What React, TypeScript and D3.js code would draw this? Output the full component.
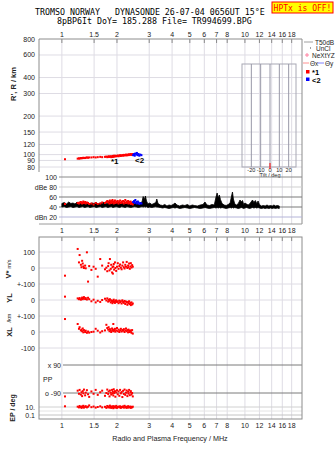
import React from 'react';
import * as d3 from 'd3';

// frequency axis
const freqTicks = [1, 1.5, 2, 3, 4, 5, 6, 7, 8, 10, 12, 14, 16, 18];

// range panel
const rangeTicks = [800, 600, 400, 300, 200, 150, 120, 100, 90, 80];

// amplitude panel
const dbTicks = [100, 80, 60, 40, 20];
const dbTickLabels = ['100', 'dBe 80', '60', '40', 'dBn 20'];
const dbLineColors = ['#8a8a8a', '#cfcfcf', '#7a7a7a', '#7a7a7a', '#b4b4d8'];

// tilt inset
const tiltTicks = [-20, -10, 0, 10, 20];

// middle panel ticks
const vTickVals = [100, 0, -100];
const vTickLabels = ['100', '0', '+-100'];
const ylTickVals = [0, -100];
const ylTickLabels = ['0', '+-100'];
const xlTickVals = [0, -100];
const xlTickLabels = ['0', '-100'];

// mode 1 echoes (red)
const echoFreq = [1.04, 1.22, 1.24, 1.25, 1.27, 1.28, 1.29, 1.30, 1.31, 1.32,
  1.34, 1.35, 1.37, 1.39, 1.41, 1.45, 1.49, 1.53, 1.57, 1.62,
  1.66, 1.72, 1.75, 1.77, 1.79, 1.80, 1.82, 1.83, 1.85, 1.86,
  1.88, 1.89, 1.90, 1.91, 1.92, 1.93, 1.95, 1.96, 1.98, 2.00,
  2.02, 2.04, 2.06, 2.08, 2.10, 2.12, 2.14, 2.16, 2.18, 2.20,
  2.22, 2.24, 2.26, 2.28, 2.30, 2.31, 2.33, 2.35, 2.37, 2.38,
  2.40, 2.42, 2.44];
const echoRange = [92, 93, 93.5, 93, 94, 93.5, 94, 94, 94.5, 94,
  94, 94.5, 95, 94.5, 95, 95, 95.5, 95, 95.5, 96,
  95.5, 96, 96.5, 95.5, 96, 97, 96, 96.5, 97, 95.5,
  96, 97.5, 96, 97, 98, 96.5, 97, 98, 97, 97.5,
  98.5, 97, 98, 99, 97.5, 98.5, 99, 98, 99.5, 98.5,
  99, 100, 98.5, 99.5, 100, 99, 100.5, 99.5, 100, 101,
  99.5, 100, 101];
const echoAmp = [46, 48, 47, 49, 50, 48, 47, 49, 51, 48,
  50, 47, 49, 48, 46, 47, 45, 48, 46, 47,
  49, 48, 50, 52, 49, 51, 47, 53, 50, 48,
  52, 54, 49, 51, 47, 50, 53, 48, 51, 49,
  52, 47, 50, 53, 48, 51, 49, 52, 47, 50,
  54, 48, 51, 49, 52, 47, 50, 48, 51, 46,
  49, 47, 45];
const echoV = [-48, 119, 35, 81, 20, 5, 45, 28, 10, 0,
  15, -2, 98, -85, 12, -12, 8, -5, -54, 56,
  15, -8, 2, -20, 12, 30, -15, 56, -5, 20,
  -28, 5, -35, 10, 25, -10, 35, 0, -18, 8,
  30, -5, 12, 22, 2, -8, 15, 35, 5, -3,
  20, 8, 38, 0, 15, 5, 28, -5, 10, 30,
  3, 18, 8];
const echoYL = [21, 10, 5, 12, 2, 8, 15, 5, 10, 18,
  6, 12, 3, 14, 5, -8, 2, -15, -5, -12,
  0, 8, -3, 10, -10, 2, -5, 5, -15, -2,
  -8, -20, -5, -12, 2, -10, -18, -6, -2, -12,
  -8, -20, -4, -14, -8, -22, -2, -12, -18, -6,
  -25, -10, -15, -30, -12, -20, -8, -25, -18, -32,
  -15, -28, -22];
const echoXL = [81, 50, 20, 30, 10, 15, 5, 22, -2, 12,
  0, 8, -5, 3, -4, 0, 2, 20, 8, -3,
  5, 10, 45, 25, 15, 30, 5, 18, 10, 0,
  22, 8, 15, 50, 5, 12, 20, 2, 10, 25,
  5, 15, 0, 10, 20, 3, 12, 8, 18, 0,
  10, 22, 5, 12, -2, 15, 8, 0, 10, 5,
  -5, 12, -10];
const echoPP = [-112, -75, -95, -70, -100, -85, -110, -78, -92, -68,
  -105, -88, -72, -98, -115, -80, -95, -70, -102, -85,
  -75, -108, -90, -68, -96, -80, -112, -74, -88, -100,
  -70, -94, -82, -106, -66, -90, -78, -114, -86, -72,
  -98, -80, -108, -70, -92, -84, -116, -76, -96, -68,
  -102, -88, -74, -110, -82, -94, -70, -104, -86, -78,
  -100, -90, -112];
const echoEP = [15, 12, 8, 18, 10, 6, 14, 9, 20, 7,
  11, 16, 8, 12, 25, 9, 13, 7, 10, 15,
  8, 11, 6, 18, 9, 13, 7, 22, 10, 6,
  14, 8, 12, 5, 16, 9, 11, 7, 19, 6,
  10, 13, 8, 15, 6, 11, 9, 14, 7, 20,
  8, 12, 6, 10, 16, 7, 11, 9, 13, 6,
  10, 8, 12];

// mode 2 echoes (blue)
const mode2Freq = [2.45, 2.48, 2.50, 2.52, 2.55, 2.57, 2.60, 2.62, 2.65, 2.68, 2.72];
const mode2Range = [99, 101, 98, 102, 100, 103, 99, 101, 98, 100, 99];
const mode2Amp = [50, 52, 48, 54, 50, 47, 51, 49, 46, 48, 47];

// noise level
const noiseFreq = [1.00, 1.03, 1.06, 1.09, 1.12, 1.15, 1.18, 1.21, 1.24, 1.27,
  1.30, 1.33, 1.36, 1.39, 1.42, 1.46, 1.50, 1.54, 1.58, 1.62,
  1.66, 1.70, 1.74, 1.78, 1.82, 1.86, 1.90, 1.94, 1.98, 2.02,
  2.07, 2.12, 2.17, 2.22, 2.27, 2.32, 2.38, 2.44, 2.50, 2.56,
  2.62, 2.68, 2.74, 2.78, 2.82, 2.86, 2.90, 2.95, 3.02, 3.10,
  3.18, 3.26, 3.30, 3.35, 3.45, 3.55, 3.65, 3.75, 3.85, 3.95,
  4.05, 4.15, 4.25, 4.40, 4.55, 4.70, 4.85, 5.00, 5.15, 5.30,
  5.50, 5.70, 5.90, 6.05, 6.20, 6.40, 6.60, 6.80, 6.95, 7.05,
  7.15, 7.25, 7.35, 7.50, 7.70, 7.90, 8.10, 8.30, 8.45, 8.55,
  8.65, 8.80, 9.00, 9.20, 9.40, 9.55, 9.70, 9.85, 10.0, 10.2,
  10.4, 10.6, 10.8, 11.0, 11.2, 11.4, 11.6, 11.8, 12.0, 12.3,
  12.6, 12.9, 13.2, 13.5, 13.8, 14.1, 14.4, 14.7, 15.0, 15.4];
const noiseLo = [40, 41, 39, 40, 41, 39, 40, 41, 39, 40,
  41, 39, 40, 41, 39, 40, 41, 39, 40, 41,
  39, 40, 41, 39, 40, 41, 39, 40, 41, 40,
  39, 41, 40, 39, 41, 40, 39, 40, 41, 40,
  39, 40, 41, 40, 41, 40, 41, 39, 40, 39,
  40, 41, 40, 40, 39, 38, 39, 38, 37, 38,
  39, 38, 39, 37, 38, 39, 38, 37, 38, 39,
  38, 37, 38, 39, 38, 37, 38, 39, 38, 39,
  38, 39, 38, 39, 38, 37, 38, 39, 38, 39,
  38, 39, 38, 37, 38, 39, 38, 37, 38, 39,
  38, 37, 38, 39, 38, 39, 38, 39, 38, 37,
  38, 37, 38, 37, 38, 37, 38, 37, 38, 37];
const noiseHi = [47, 49, 46, 50, 47, 48, 46, 50, 47, 49,
  46, 48, 47, 50, 46, 48, 47, 49, 46, 48,
  47, 50, 46, 48, 51, 47, 49, 46, 48, 50,
  47, 49, 46, 48, 47, 50, 46, 48, 47, 49,
  46, 48, 50, 61, 55, 62, 52, 46, 48, 45,
  47, 49, 56, 47, 44, 43, 45, 42, 44, 43,
  45, 48, 44, 42, 44, 43, 45, 42, 44, 43,
  42, 44, 45, 50, 44, 43, 45, 44, 60, 68,
  58, 64, 55, 47, 44, 43, 45, 48, 62, 70,
  56, 46, 44, 47, 54, 50, 53, 45, 48, 46,
  44, 46, 50, 54, 49, 53, 47, 52, 45, 42,
  43, 42, 44, 42, 43, 42, 44, 42, 43, 42];

const sans = "'Liberation Sans', Arial, Helvetica, sans-serif";
const mono = "'DejaVu Sans Mono', 'Liberation Mono', monospace";

const L = 39;
const R = 302;

const x = d3.scaleLog().domain([0.75, 20.5]).range([L, R]);
const yR = d3.scaleLog().domain([80, 800]).range([167, 39]);
const yDb = d3.scaleLinear().domain([20, 100]).range([217, 177]);
const yV = d3.scaleLinear().domain([-100, 100]).range([284, 252]);
const yYL = d3.scaleLinear().domain([-100, 100]).range([316, 284]);
const yXL = d3.scaleLinear().domain([-100, 100]).range([348, 316]);
const yPP = d3.scaleLinear().domain([-90, 90]).range([393, 365]);
const yEP = d3.scaleLog().domain([0.1, 10]).range([415, 407]);
const xTilt = d3.scaleLinear().domain([-30, 30]).range([242, 298]);

const fmtFreq = (f: number) => String(f);

const noiseArea = d3.area<number>()
  .x((d) => x(d))
  .y0((d, i) => yDb(noiseLo[i]))
  .y1((d, i) => yDb(noiseHi[i]));

const Dot = ({ cx, cy, fill }: { cx: number; cy: number; fill: string }) => (
  <rect x={cx - 1} y={cy - 1} width={2} height={2} fill={fill} />
);

export default function App() {
  const gridColor = '#dedce4';
  const tickText = { fontFamily: sans, fontSize: 7, fill: '#222' } as const;

  return (
    <svg width={335} height={451} style={{ position: 'absolute', left: 0, top: 0, background: '#fff' }}>
      {/* header */}
      <text x={35} y={15} fontFamily={mono} fontSize={8.3} fill="#000" style={{ whiteSpace: 'pre' }}>
        {'TROMSO NORWAY   DYNASONDE 26-07-04 0656UT 15\u00B0E'}
      </text>
      <text x={57} y={23.5} fontFamily={mono} fontSize={8.3} fill="#000" style={{ whiteSpace: 'pre' }}>
        {'8pBP6It DoY= 185.288 File= TR994699.BPG'}
      </text>
      <rect x={272} y={2} width={61} height={11} fill="#ffff00" stroke="#ff0000" strokeWidth={1} />
      <text x={302.5} y={10.5} textAnchor="middle" fontFamily={mono} fontSize={8} fill="#ff0000">HPTx is OFF!</text>

      {/* vertical frequency grid */}
      {freqTicks.map((f) => (
        <g key={'g' + f}>
          <line x1={x(f)} x2={x(f)} y1={39} y2={224} stroke={gridColor} />
          <line x1={x(f)} x2={x(f)} y1={237} y2={419} stroke={gridColor} />
          <line x1={x(f)} x2={x(f)} y1={39} y2={43} stroke="#8a8a8a" />
          <line x1={x(f)} x2={x(f)} y1={237} y2={241} stroke="#8a8a8a" />
          <text x={x(f)} y={36.5} textAnchor="middle" {...tickText}>{fmtFreq(f)}</text>
          <text x={x(f)} y={232.5} textAnchor="middle" {...tickText}>{fmtFreq(f)}</text>
          <text x={x(f)} y={427.5} textAnchor="middle" {...tickText}>{fmtFreq(f)}</text>
        </g>
      ))}

      {/* range panel */}
      {rangeTicks.map((h) => (
        <g key={'r' + h}>
          {h !== 800 && <line x1={L} x2={R} y1={yR(h)} y2={yR(h)} stroke={gridColor} />}
          <text x={35} y={yR(h) + 2.5} textAnchor="end" {...tickText}>{h}</text>
        </g>
      ))}
      <line x1={L} x2={R} y1={39} y2={39} stroke="#8c8c8c" />
      <line x1={L} x2={L} y1={39} y2={172} stroke="#8c8c8c" />
      <line x1={R} x2={R} y1={39} y2={224} stroke="#8c8c8c" />
      <text transform="translate(16,84) rotate(-90)" textAnchor="middle" fontFamily={sans} fontSize={7.5} fontWeight="bold" fill="#222">R', R / km</text>

      {/* tilt inset */}
      <rect x={242} y={64} width={54} height={103} fill="none" stroke="#a8a8b4" />
      {tiltTicks.map((t) => (
        <g key={'t' + t}>
          <line x1={xTilt(t)} x2={xTilt(t)} y1={64} y2={167} stroke="#9898a8" />
          <text x={xTilt(t)} y={172} textAnchor="middle" fontFamily={sans} fontSize={5.5} fill="#222">{t}</text>
        </g>
      ))}
      <line x1={xTilt(0)} x2={xTilt(0)} y1={163} y2={169} stroke="#ff0000" />
      <text x={xTilt(0)} y={177} textAnchor="middle" fontFamily={sans} fontSize={5.5} fill="#222">Tilt / deg</text>

      {/* echo traces in range panel */}
      {echoFreq.map((f, i) => (
        <Dot key={'er' + i} cx={x(f)} cy={yR(echoRange[i])} fill="#ff0000" />
      ))}
      {mode2Freq.map((f, i) => (
        <Dot key={'mr' + i} cx={x(f)} cy={yR(mode2Range[i])} fill="#0000ff" />
      ))}
      <text x={111} y={164} fontFamily={sans} fontSize={8} fontWeight="bold" fill="#000">*1</text>
      <text x={135} y={163} fontFamily={sans} fontSize={8} fontWeight="bold" fill="#000">&lt;2</text>

      {/* legend */}
      <line x1={304} x2={313} y1={42} y2={42} stroke="#a0a0a0" />
      <text x={315} y={44.5} fontFamily={sans} fontSize={6.5} fill="#222">T50dB</text>
      <rect x={310} y={47.5} width={1} height={1} fill="#444" />
      <text x={316} y={50.5} fontFamily={sans} fontSize={6.5} fill="#222">UnCl</text>
      <line x1={305} x2={309} y1={55} y2={55} stroke="#ff80a0" />
      <line x1={307} x2={307} y1={53} y2={57} stroke="#ff80a0" />
      <text x={312} y={57.5} fontFamily={sans} fontSize={6.5} fill="#222">NeXtYZ</text>
      <line x1={303} x2={309} y1={63} y2={63} stroke="#ff9090" />
      <text x={310} y={65.5} fontFamily={sans} fontSize={6.5} fill="#222">Θx</text>
      <line x1={318} x2={324} y1={63} y2={63} stroke="#8080ff" />
      <text x={325} y={65.5} fontFamily={sans} fontSize={6.5} fill="#222">Θy</text>
      <rect x={306} y={70} width={3.5} height={3.5} fill="#ff0000" />
      <text x={312} y={75} fontFamily={sans} fontSize={7.5} fontWeight="bold" fill="#000">*1</text>
      <rect x={306} y={77.5} width={3.5} height={3.5} fill="#0000ff" />
      <text x={312} y={82.5} fontFamily={sans} fontSize={7.5} fontWeight="bold" fill="#000">&lt;2</text>

      {/* amplitude panel */}
      {dbTicks.map((v, i) => (
        <g key={'db' + v}>
          <line x1={59} x2={R} y1={yDb(v)} y2={yDb(v)} stroke={dbLineColors[i]} />
          <text x={57} y={yDb(v) + 2.5} textAnchor="end" {...tickText}>{dbTickLabels[i]}</text>
        </g>
      ))}
      <path d={noiseArea(noiseFreq) || ''} fill="#000" stroke="#000" strokeWidth={0.8} />
      {echoFreq.map((f, i) => (
        <Dot key={'ea' + i} cx={x(f)} cy={yDb(echoAmp[i])} fill="#ff0000" />
      ))}
      {mode2Freq.map((f, i) => (
        <Dot key={'ma' + i} cx={x(f)} cy={yDb(mode2Amp[i])} fill="#0000ff" />
      ))}
      <line x1={L} x2={R} y1={224} y2={224} stroke="#9a9a9a" />

      {/* lower panel */}
      {[...vTickVals.map((v) => yV(v)), ...ylTickVals.map((v) => yYL(v)), ...xlTickVals.map((v) => yXL(v))].map((yy, i) => (
        <line key={'hl' + i} x1={L} x2={R} y1={yy} y2={yy} stroke={gridColor} />
      ))}
      {vTickVals.map((v, i) => (
        <text key={'vt' + v} x={35} y={yV(v) + 2.5} textAnchor="end" {...tickText}>{vTickLabels[i]}</text>
      ))}
      {ylTickVals.map((v, i) => (
        <text key={'yt' + v} x={35} y={yYL(v) + 2.5} textAnchor="end" {...tickText}>{ylTickLabels[i]}</text>
      ))}
      {xlTickVals.map((v, i) => (
        <text key={'xt' + v} x={35} y={yXL(v) + 2.5} textAnchor="end" {...tickText}>{xlTickLabels[i]}</text>
      ))}

      <line x1={63} x2={R} y1={yPP(90)} y2={yPP(90)} stroke="#7a7a7a" />
      <line x1={63} x2={R} y1={yPP(-90)} y2={yPP(-90)} stroke="#7a7a7a" />
      <text x={61} y={yPP(90) + 2.5} textAnchor="end" {...tickText}>x 90</text>
      <text x={61} y={yPP(-90) + 2.5} textAnchor="end" {...tickText}>o -90</text>
      <text x={43} y={381.5} {...tickText}>PP</text>
      <line x1={L} x2={R} y1={yEP(10)} y2={yEP(10)} stroke="#d0d0d0" />
      <line x1={L} x2={R} y1={yEP(1)} y2={yEP(1)} stroke="#e4e4e4" />
      <line x1={L} x2={R} y1={yEP(0.1)} y2={yEP(0.1)} stroke="#c4c4c4" />
      <text x={35} y={yEP(10) + 2.5} textAnchor="end" {...tickText}>10.</text>
      <text x={35} y={yEP(0.1) + 2.5} textAnchor="end" {...tickText}>0.1</text>

      {echoFreq.map((f, i) => (
        <g key={'em' + i}>
          <Dot cx={x(f)} cy={yV(echoV[i])} fill="#ff0000" />
          <Dot cx={x(f)} cy={yYL(echoYL[i])} fill="#ff0000" />
          <Dot cx={x(f)} cy={yXL(echoXL[i])} fill="#ff0000" />
          <Dot cx={x(f)} cy={yPP(echoPP[i])} fill="#ff0000" />
          <Dot cx={x(f)} cy={yEP(echoEP[i])} fill="#ff0000" />
        </g>
      ))}

      <rect x={L} y={237} width={R - L} height={182} fill="none" stroke="#8c8c8c" />

      <text transform="translate(11,269) rotate(-90)" textAnchor="middle" fontFamily={sans} fill="#222">
        <tspan fontSize={7.5} fontWeight="bold">V*</tspan>
        <tspan fontSize={5.5} dx={2}>m/s</tspan>
      </text>
      <text transform="translate(12,298) rotate(-90)" textAnchor="middle" fontFamily={sans} fontSize={7.5} fontWeight="bold" fill="#222">YL</text>
      <text transform="translate(11,318) rotate(-90)" textAnchor="middle" fontFamily={sans} fontSize={5.5} fill="#222">/km</text>
      <text transform="translate(12,332) rotate(-90)" textAnchor="middle" fontFamily={sans} fontSize={7.5} fontWeight="bold" fill="#222">XL</text>
      <text transform="translate(15,408) rotate(-90)" textAnchor="middle" fontFamily={sans} fontSize={7} fontWeight="bold" fill="#222">EP / deg</text>

      <text x={170} y={441} textAnchor="middle" fontFamily={sans} fontSize={7.2} fill="#222">Radio and Plasma Frequency / MHz</text>
    </svg>
  );
}
